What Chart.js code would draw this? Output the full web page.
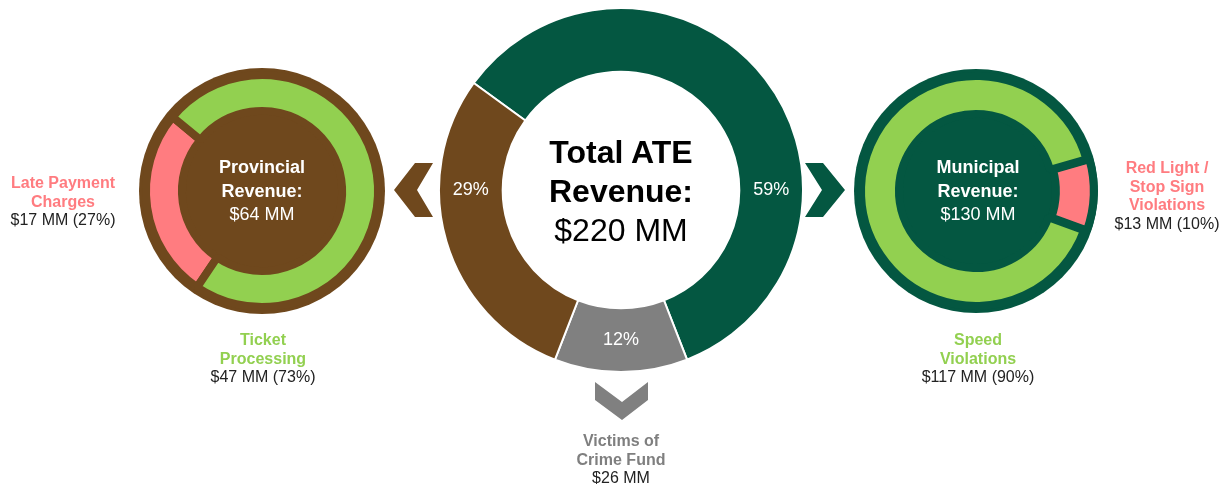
<!DOCTYPE html>
<html lang="en">
<head>
<meta charset="UTF-8">
<title>Total ATE Revenue</title>
<script src="https://cdn.jsdelivr.net/npm/chart.js@4.4.1/dist/chart.umd.min.js"></script>
<style>
    body {
        margin: 0;
        background: #ffffff;
        font-family: 'Liberation Sans', Arial, sans-serif;
    }
    #stage {
        position: relative;
        width: 1223px;
        height: 484px;
        overflow: hidden;
    }
    canvas, svg {
        position: absolute;
    }
    .lbl {
        position: absolute;
        transform: translateX(-50%);
        text-align: center;
        white-space: nowrap;
        font-size: 16px;
        line-height: 18.5px;
        color: #222222;
    }
    .lbl b { display: block; }
    .ring-text {
        position: absolute;
        transform: translate(-50%, -50%);
        text-align: center;
        white-space: nowrap;
        color: #ffffff;
        font-size: 18px;
        line-height: 23.5px;
    }
    .total-text {
        position: absolute;
        transform: translate(-50%, -50%);
        text-align: center;
        white-space: nowrap;
        color: #000000;
        font-size: 32px;
        line-height: 39px;
    }
</style>
</head>
<body>
<div id="stage">
    <canvas id="total" width="366" height="366" style="left:438px; top:7px;"></canvas>
    <canvas id="prov" width="248" height="248" style="left:138px; top:67px;"></canvas>
    <canvas id="muni" width="246" height="246" style="left:853px; top:68px;"></canvas>

    <svg width="1223" height="484" style="left:0; top:0;">
        <polygon points="415,163 433,163 417,190 433,217 415,217 394,190" fill="#6f481d"/>
        <polygon points="805,163 823,163 845,190 823,217 805,217 822,190" fill="#045741"/>
        <polygon points="595,382 622,402 648,382 648,400 622,420 595,400" fill="#808080"/>
    </svg>

    <div class="total-text" style="left:621px; top:191px;">
        <b>Total ATE</b><b style="display:block">Revenue:</b>$220 MM
    </div>
    <div class="ring-text" style="left:262px; top:191px;">
        <b style="display:block">Provincial</b><b style="display:block">Revenue:</b>$64 MM
    </div>
    <div class="ring-text" style="left:978px; top:191px;">
        <b style="display:block">Municipal</b><b style="display:block">Revenue:</b>$130 MM
    </div>
    <div id="labels"></div>
</div>

<script>
    // values in $ MM
    const totalLabels = ['Municipal', 'Victims of Crime Fund', 'Provincial'];
    const totalValues = [130, 26, 64];
    const provLabels = ['Late Payment Charges', 'Ticket Processing'];
    const provValues = [17, 47];
    const muniLabels = ['Red Light / Stop Sign Violations', 'Speed Violations'];
    const muniValues = [13, 117];

    const DARK_GREEN = '#045741';
    const BROWN = '#6f481d';
    const LIGHT_GREEN = '#92d050';
    const PINK = '#ff7c80';
    const GREY = '#808080';

    // plain disc behind the ring (the dark rim and the filled middle)
    const discPlugin = {
        id: 'disc',
        beforeDatasetsDraw(chart, args, opts) {
            if (!opts.color) return;
            const a = chart.chartArea;
            const cx = (a.left + a.right) / 2, cy = (a.top + a.bottom) / 2;
            const r = Math.min(a.right - a.left, a.bottom - a.top) / 2 - 1;
            const ctx = chart.ctx;
            ctx.save();
            ctx.fillStyle = opts.color;
            ctx.beginPath();
            ctx.arc(cx, cy, r, 0, Math.PI * 2);
            ctx.fill();
            ctx.restore();
        }
    };

    // percent text inside the big ring, placed on the middle of the band
    const pctPlugin = {
        id: 'pct',
        afterDatasetsDraw(chart, args, opts) {
            if (!opts.angles) return;
            const meta = chart.getDatasetMeta(0);
            const data = chart.data.datasets[0].data;
            const total = data.reduce((s, v) => s + v, 0);
            const ctx = chart.ctx;
            ctx.save();
            ctx.fillStyle = '#ffffff';
            ctx.font = '18px "Liberation Sans", Arial, sans-serif';
            ctx.textAlign = 'center';
            ctx.textBaseline = 'middle';
            meta.data.forEach((arc, i) => {
                const r = (arc.innerRadius + arc.outerRadius) / 2;
                const t = (opts.angles[i] - 90) * Math.PI / 180;
                ctx.fillText(Math.round(data[i] / total * 100) + '%', arc.x + r * Math.cos(t), arc.y + r * Math.sin(t));
            });
            ctx.restore();
        }
    };

    Chart.register(discPlugin, pctPlugin);

    function ring(id, labels, values, colors, opts) {
        return new Chart(document.getElementById(id), {
            type: 'doughnut',
            data: {
                labels: labels,
                datasets: [{
                    data: values,
                    backgroundColor: colors,
                    borderColor: opts.border,
                    borderWidth: opts.borderWidth,
                    offset: opts.offset || 0,
                    hoverOffset: 0,
                    radius: opts.radius,
                    cutout: opts.cutout
                }]
            },
            options: {
                responsive: false,
                animation: false,
                events: [],
                rotation: opts.rotation,
                layout: { padding: 0 },
                plugins: {
                    legend: { display: false },
                    tooltip: { enabled: false },
                    disc: { color: opts.disc },
                    pct: { angles: opts.angles }
                }
            }
        });
    }

    ring('total', totalLabels, totalValues, [DARK_GREEN, GREY, BROWN], {
        border: '#ffffff', borderWidth: 2, rotation: -54, cutout: '65%', radius: '100%',
        angles: [90, 180, 270]
    });
    ring('prov', provLabels, provValues, [PINK, LIGHT_GREEN], {
        border: BROWN, borderWidth: 8, rotation: 214, cutout: '69%', radius: '96.7%', disc: BROWN
    });
    ring('muni', muniLabels, muniValues, [PINK, LIGHT_GREEN], {
        border: DARK_GREEN, borderWidth: 8, rotation: 74, cutout: '67%', radius: '100%', disc: DARK_GREEN,
        offset: [8, 0]
    });

    // category call-outs around the rings
    const callouts = [
        { x: 63, y: 174, name: ['Late Payment', 'Charges'], color: PINK, value: provValues[0], total: provValues },
        { x: 263, y: 331, name: ['Ticket', 'Processing'], color: LIGHT_GREEN, value: provValues[1], total: provValues },
        { x: 621, y: 432, name: ['Victims of', 'Crime Fund'], color: '#7f7f7f', value: totalValues[1] },
        { x: 978, y: 331, name: ['Speed', 'Violations'], color: LIGHT_GREEN, value: muniValues[1], total: muniValues },
        { x: 1167, y: 159, name: ['Red Light /', 'Stop Sign', 'Violations'], color: PINK, value: muniValues[0], total: muniValues }
    ];
    const holder = document.getElementById('labels');
    callouts.forEach(c => {
        const d = document.createElement('div');
        d.className = 'lbl';
        d.style.left = c.x + 'px';
        d.style.top = c.y + 'px';
        let html = c.name.map(n => `<b style="color:${c.color}">${n}</b>`).join('');
        let line = `$${c.value} MM`;
        if (c.total) {
            const sum = c.total.reduce((s, v) => s + v, 0);
            line += ` (${Math.round(c.value / sum * 100)}%)`;
        }
        d.innerHTML = html + line;
        holder.appendChild(d);
    });
</script>
</body>
</html>
